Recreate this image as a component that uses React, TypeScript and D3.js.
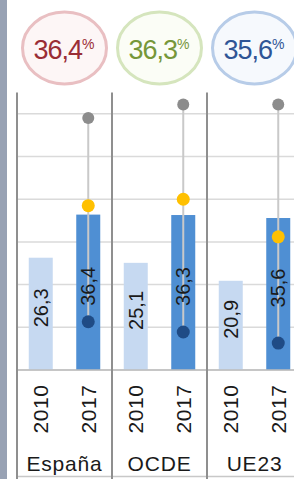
import React from 'react';
import * as d3 from 'd3';

// data
const countries = ['España', 'OCDE', 'UE23'];
const years = ['2010', '2017'];
const share2010 = [26.3, 25.1, 20.9];
const share2017 = [36.4, 36.3, 35.6];
const highValues = [59.0, 62.2, 62.2];
const yellowValues = [38.5, 40.0, 31.2];
const lowValues = [11.3, 8.9, 6.3];
const badgeLabels = ['36,4', '36,3', '35,6'];
const gridTicks = [0, 10, 20, 30, 40, 50, 60];

const badgeStyles = [
  { stroke: '#e9bfc2', fill: '#fdf6f6', text: '#9a2d35' },
  { stroke: '#d5e5bd', fill: '#fbfdf6', text: '#76973a' },
  { stroke: '#b7cce8', fill: '#f6f9fd', text: '#2f5596' },
];

const W = 294;
const H = 479;
const font = '"Liberation Sans", Arial, sans-serif';
const narrow = '"Liberation Sans Narrow", "Liberation Sans", Arial, sans-serif';

const fmt = (v: number) => v.toFixed(1).replace('.', ',');

export default function App() {
  const x = d3.scaleBand().domain(countries).range([17, 302]).padding(0);
  const xi = d3.scalePoint().domain(years).range([0, x.bandwidth()]).padding(0.5);
  const y = d3.scaleLinear().domain([0, 65]).range([370, 92.5]);
  const barW = 24;
  const base = y(0);

  return (
    <svg width={W} height={H} style={{ position: 'absolute', left: 0, top: 0, background: '#fff' }}>
      <rect x={0} y={0} width={7} height={H} fill="#98a2b4" />

      {/* gridlines */}
      {gridTicks.map(t => (
        <line key={t} x1={17} x2={W} y1={y(t)} y2={y(t)} stroke="#dadada" strokeWidth={1.5} />
      ))}
      <line x1={17} x2={W} y1={476.5} y2={476.5} stroke="#c8c8c8" strokeWidth={1.5} />

      {/* badges */}
      {countries.map((c, i) => {
        const cx = (x(c) as number) + x.bandwidth() / 2;
        const s = badgeStyles[i];
        return (
          <g key={'b' + c}>
            <ellipse cx={cx} cy={48} rx={42} ry={36} fill={s.fill} stroke={s.stroke} strokeWidth={3} />
            <text x={cx - 1} y={59} textAnchor="middle" fill={s.text} fontFamily={narrow}
              fontSize={27} letterSpacing={-1}>
              {badgeLabels[i]}
              <tspan fontSize={14} dy={-10} letterSpacing={-1}>%</tspan>
            </text>
          </g>
        );
      })}

      {/* bars */}
      {countries.map((c, i) => {
        const gx = x(c) as number;
        const vals = [share2010[i], share2017[i]];
        return years.map((yr, j) => {
          const cx = gx + (xi(yr) as number);
          return (
            <rect key={c + yr} x={cx - barW / 2} y={y(vals[j])} width={barW}
              height={base - y(vals[j])} fill={j === 0 ? '#c6d9f1' : '#4f8fd3'} />
          );
        });
      })}

      {/* range line + dots on 2017 bar */}
      {countries.map((c, i) => {
        const cx = (x(c) as number) + (xi('2017') as number);
        return (
          <g key={'r' + c}>
            <line x1={cx} x2={cx} y1={y(highValues[i])} y2={y(lowValues[i])} stroke="#c9c9c9" strokeWidth={2} />
            <circle cx={cx} cy={y(highValues[i])} r={6} fill="#8c8c8c" />
            <circle cx={cx} cy={y(yellowValues[i])} r={6.5} fill="#ffc000" />
            <circle cx={cx} cy={y(lowValues[i])} r={6.5} fill="#1f4b85" />
          </g>
        );
      })}

      {/* value labels inside bars */}
      {countries.map((c, i) => {
        const gx = x(c) as number;
        const vals = [share2010[i], share2017[i]];
        return years.map((yr, j) => {
          const cx = gx + (xi(yr) as number);
          const cy = (y(vals[j]) + base) / 2 - 6;
          return (
            <text key={'l' + c + yr} transform={`translate(${cx + 7},${cy}) rotate(-90)`}
              textAnchor="middle" fontFamily={font} fontSize={20} fill="#1a1a1a">
              {fmt(vals[j])}
            </text>
          );
        });
      })}

      {/* axis */}
      <line x1={17} x2={W} y1={base} y2={base} stroke="#bdbdbd" strokeWidth={1.5} />
      {countries.map(c => (
        <line key={'s' + c} x1={(x(c) as number)} x2={(x(c) as number)} y1={y(65)} y2={H}
          stroke="#8f8f8f" strokeWidth={2} />
      ))}
      {countries.map(c => {
        const gx = x(c) as number;
        return years.map(yr => (
          <text key={'y' + c + yr} transform={`translate(${gx + (xi(yr) as number) + 7.5},409) rotate(-90)`}
            textAnchor="middle" fontFamily={font} fontSize={21} letterSpacing={0.6} fill="#1a1a1a">
            {yr}
          </text>
        ));
      })}
      {countries.map(c => (
        <text key={'c' + c} x={(x(c) as number) + x.bandwidth() / 2} y={471} textAnchor="middle"
          fontFamily={font} fontSize={21} letterSpacing={0.8} fill="#1a1a1a">
          {c}
        </text>
      ))}
    </svg>
  );
}
